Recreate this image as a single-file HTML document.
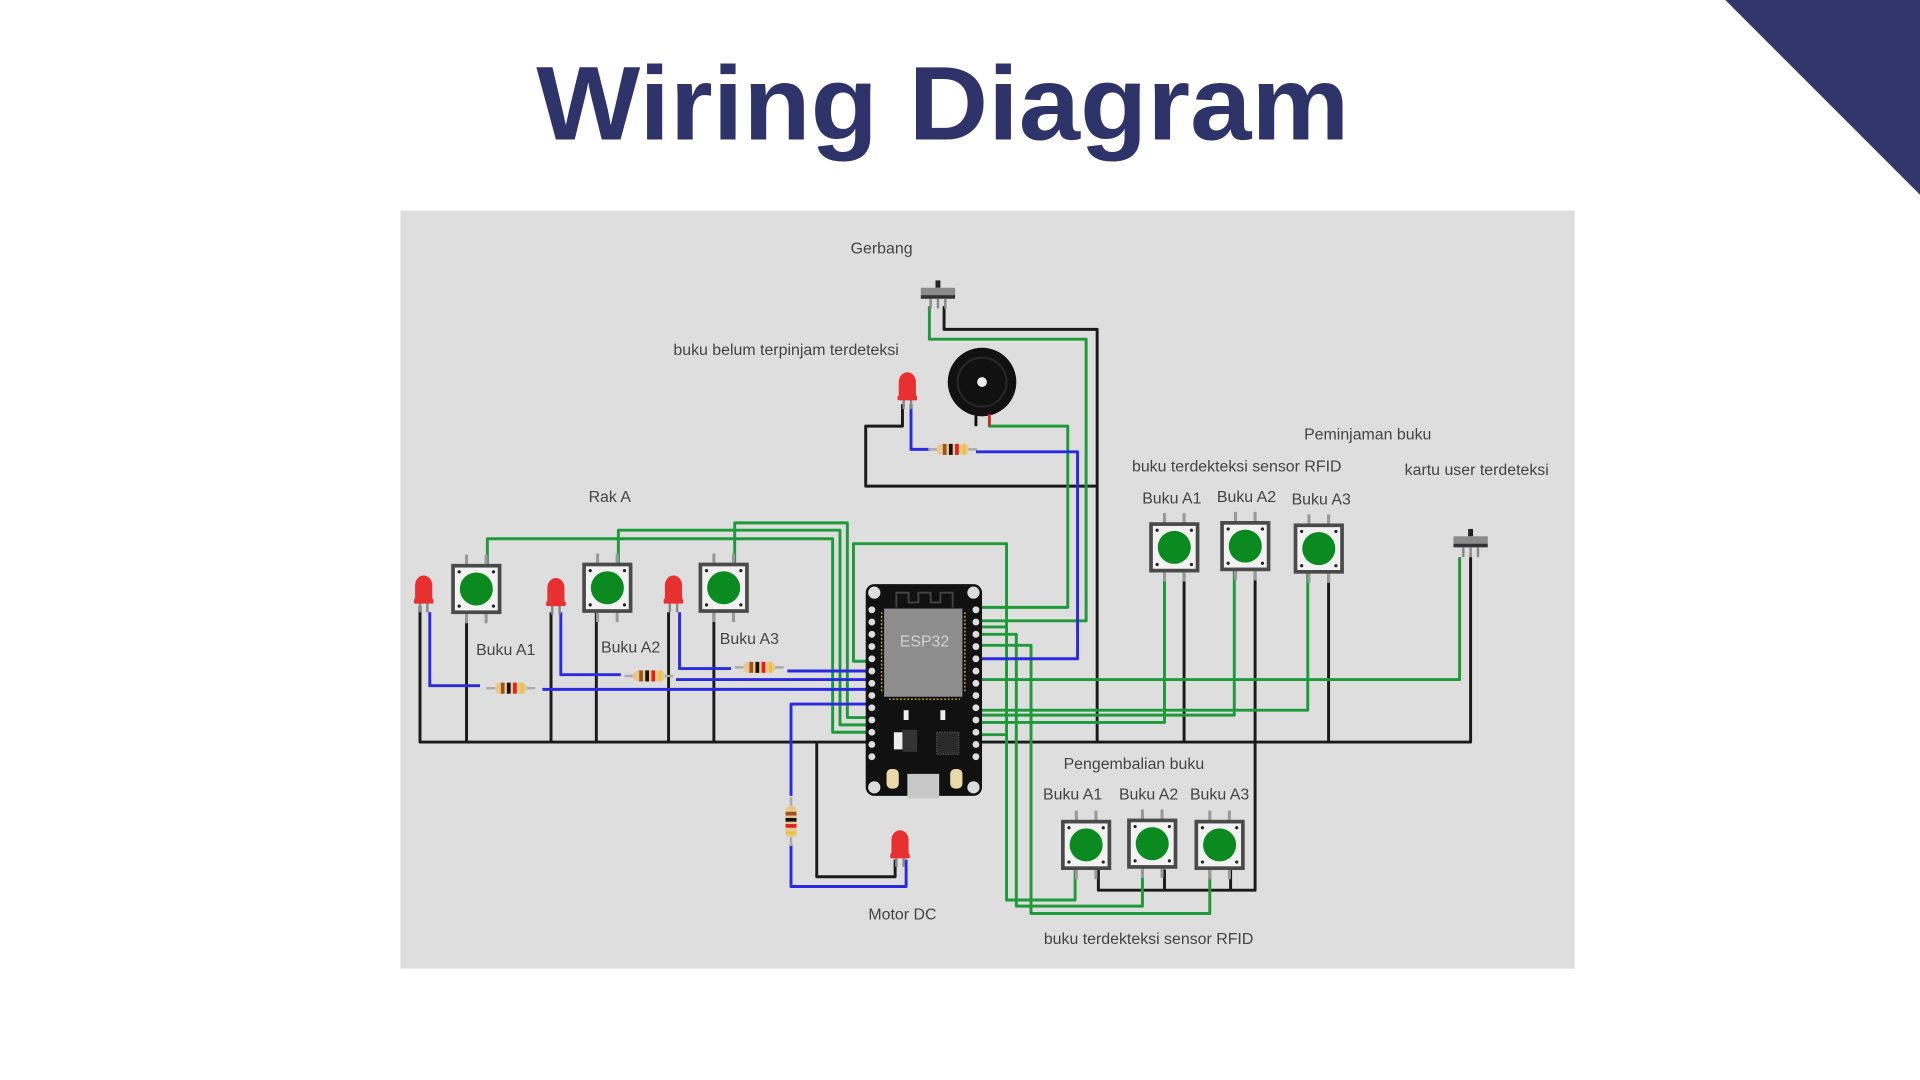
<!DOCTYPE html>
<html><head><meta charset="utf-8"><style>
html,body{margin:0;padding:0;background:#fff;width:1920px;height:1080px;overflow:hidden}
svg{display:block}
text{font-family:"Liberation Sans",sans-serif}
</style></head><body>
<svg width="1920" height="1080" viewBox="0 0 1568 882" xmlns="http://www.w3.org/2000/svg">
<defs>
<g id="btn">
 <line x1="-8" y1="-28" x2="-8" y2="-19" stroke="#999" stroke-width="2.5"/>
 <line x1="8" y1="-28" x2="8" y2="-19" stroke="#999" stroke-width="2.5"/>
 <line x1="-8" y1="19" x2="-8" y2="28" stroke="#999" stroke-width="2.5"/>
 <line x1="8" y1="19" x2="8" y2="28" stroke="#999" stroke-width="2.5"/>
 <rect x="-19" y="-19" width="38" height="38" fill="#f2f2f2" stroke="#4a4a4a" stroke-width="3"/>
 <circle cx="0" cy="0" r="13.5" fill="#0b8a1f"/>
 <circle cx="-14" cy="-14" r="1.3" fill="#222"/><circle cx="14" cy="-14" r="1.3" fill="#222"/>
 <circle cx="-14" cy="14" r="1.3" fill="#222"/><circle cx="14" cy="14" r="1.3" fill="#222"/>
</g>
<g id="led">
 <line x1="-3" y1="8" x2="-3" y2="18" stroke="#888" stroke-width="2"/>
 <line x1="3" y1="8" x2="3" y2="18" stroke="#888" stroke-width="2"/>
 <path d="M-7 10 V-4 A7 8 0 0 1 7 -4 V10 Z" fill="#e83030"/>
 <rect x="-8" y="7" width="16" height="4" rx="1" fill="#e83030"/>
</g>
<g id="res">
 <line x1="-20" y1="0" x2="20" y2="0" stroke="#aaa" stroke-width="2"/>
 <rect x="-13" y="-4.5" width="26" height="9" rx="4" fill="#e9c890"/>
 <rect x="-8" y="-4.5" width="3" height="9" fill="#a0521d"/>
 <rect x="-3" y="-4.5" width="3" height="9" fill="#111"/>
 <rect x="2" y="-4.5" width="3" height="9" fill="#e02020"/>
 <rect x="8" y="-4.5" width="2.5" height="9" fill="#e6c640"/>
</g>
<g id="sw">
 <rect x="-2" y="-11" width="4" height="6" fill="#222"/>
 <rect x="-14" y="-5" width="28" height="6" fill="#8a8a8a"/>
 <rect x="-14" y="1" width="28" height="3" fill="#333"/>
 <line x1="-6" y1="4" x2="-6" y2="12" stroke="#888" stroke-width="2"/>
 <line x1="0" y1="4" x2="0" y2="12" stroke="#888" stroke-width="2"/>
 <line x1="6" y1="4" x2="6" y2="12" stroke="#888" stroke-width="2"/>
</g>
</defs>

<polygon points="1409,0 1568,0 1568,159" fill="#32366b"/>
<text x="770" y="114" text-anchor="middle" font-size="86" font-weight="bold" fill="#2e346a" textLength="664" lengthAdjust="spacingAndGlyphs">Wiring Diagram</text>

<rect x="327" y="172" width="959" height="619" fill="#dedede"/>

<g fill="none" stroke-linejoin="round" stroke-width="2.4">
<!-- black wires -->
<g stroke="#1a1a1a">
 <path d="M343 495 V606 H1201 V455"/>
 <path d="M381 500 V606 M450 500 V606 M487 500 V606 M546 500 V606 M583 500 V606"/>
 <path d="M771 250 V269 H896 V606"/>
 <path d="M737 330 V348 H707 V397 H896"/>
 <path d="M797 340 V348"/>
 <path d="M967 465 V606 M1085 465 V606"/>
 <path d="M1025 465 V727 H897 V710 M951 710 V727 M1005 710 V727"/>
 <path d="M667 606 V716 H731 V702"/>
</g>
<!-- green wires -->
<g stroke="#1f9a3a">
 <path d="M398 462 V440 H680 V598 H711"/>
 <path d="M505 462 V433 H686 V592 H711"/>
 <path d="M600 462 V427 H692 V586 H711"/>
 <path d="M711 540 H697 V444 H822 V600 H801"/>
 <path d="M759 250 V277 H887 V507 H801"/>
 <path d="M808 340 V348 H872 V496 H801"/>
 <path d="M951 465 V590 H801"/>
 <path d="M1008 465 V584 H801"/>
 <path d="M1068 465 V580 H801"/>
 <path d="M1192 455 V555 H801"/>
 <path d="M801 512 H822"/>
 <path d="M878 710 V735 H822 V600"/>
 <path d="M801 518 H830 V740 H933 V710"/>
 <path d="M801 527 H842 V746 H988 V710"/>
</g>
<!-- blue wires -->
<g stroke="#2a2ae0">
 <path d="M351 500 V560 H392"/>
 <path d="M443 563 H711"/>
 <path d="M458 500 V551 H507"/>
 <path d="M552 555 H711"/>
 <path d="M555 500 V546 H597"/>
 <path d="M643 548 H711"/>
 <path d="M711 575 H646 V650"/>
 <path d="M646 690 V724 H740 V702"/>
 <path d="M744 330 V367 H760"/>
 <path d="M797 369 H880 V538 H801"/>
</g>
</g>

<!-- resistors -->
<use href="#res" x="417" y="562"/>
<use href="#res" x="530" y="552"/>
<use href="#res" x="620" y="545"/>
<use href="#res" x="778" y="367"/>
<use href="#res" transform="translate(646,671) rotate(90)"/>

<!-- LEDs -->
<use href="#led" x="346" y="482"/>
<use href="#led" x="454" y="484"/>
<use href="#led" x="550" y="482"/>
<use href="#led" x="741" y="316"/>
<use href="#led" x="735" y="690"/>

<!-- buttons -->
<use href="#btn" x="389" y="481"/>
<use href="#btn" x="496" y="480"/>
<use href="#btn" x="591" y="480"/>
<use href="#btn" x="959" y="447"/>
<use href="#btn" x="1017" y="446"/>
<use href="#btn" x="1077" y="448"/>
<use href="#btn" x="887" y="690"/>
<use href="#btn" x="941" y="689"/>
<use href="#btn" x="996" y="690"/>

<!-- switches -->
<use href="#sw" x="766" y="240"/>
<use href="#sw" x="1201" y="443"/>

<!-- buzzer -->
<circle cx="802" cy="312" r="28" fill="#111"/>
<circle cx="802" cy="312" r="20" fill="none" stroke="#2a2a2a" stroke-width="1.5"/>
<circle cx="802" cy="312" r="4" fill="#eee"/>
<line x1="797" y1="338" x2="797" y2="348" stroke="#111" stroke-width="2"/>
<line x1="808" y1="338" x2="808" y2="348" stroke="#e02020" stroke-width="2"/>

<!-- ESP32 -->
<g>
 <rect x="707" y="477" width="95" height="173" rx="7" fill="#111"/>
 <circle cx="714" cy="484" r="5" fill="#ddd"/><circle cx="795" cy="484" r="5" fill="#ddd"/>
 <circle cx="714" cy="643" r="5" fill="#ddd"/><circle cx="795" cy="643" r="5" fill="#ddd"/>
 <path d="M732 496 V484 H742 V492 H750 V484 H760 V492 H768 V484 H778 V496" fill="none" stroke="#444" stroke-width="1.5"/>
 <rect x="722" y="497" width="64" height="72" fill="#8d8d8d"/>
 <g stroke="#c9a53a" stroke-width="1.2">
  <path d="M726 571 h58" stroke-dasharray="1.5 1.5"/>
  <path d="M720 500 v66 M788 500 v66" stroke-dasharray="1.5 1.5"/>
 </g>
 <text x="755" y="528" text-anchor="middle" font-size="13" fill="#d2d2d2">ESP32</text>
 <rect x="738" y="580" width="4" height="8" fill="#eee"/><rect x="768" y="580" width="4" height="8" fill="#eee"/>
 <rect x="730" y="598" width="7" height="14" fill="#eee"/><rect x="737" y="596" width="12" height="18" fill="#333"/>
 <rect x="765" y="598" width="18" height="18" fill="#2a2a2a" stroke="#555" stroke-dasharray="1 1"/>
 <rect x="724" y="628" width="10" height="16" rx="4" fill="#e8d9a8"/>
 <rect x="776" y="628" width="10" height="16" rx="4" fill="#e8d9a8"/>
 <rect x="741" y="632" width="26" height="20" fill="#c8c8c8"/>
 <g fill="#ddd">
  <circle cx="712" cy="498" r="2.8"/><circle cx="712" cy="508" r="2.8"/><circle cx="712" cy="518" r="2.8"/><circle cx="712" cy="528" r="2.8"/><circle cx="712" cy="538" r="2.8"/><circle cx="712" cy="548" r="2.8"/><circle cx="712" cy="558" r="2.8"/><circle cx="712" cy="568" r="2.8"/><circle cx="712" cy="578" r="2.8"/><circle cx="712" cy="588" r="2.8"/><circle cx="712" cy="598" r="2.8"/><circle cx="712" cy="608" r="2.8"/><circle cx="712" cy="618" r="2.8"/>
  <circle cx="797" cy="498" r="2.8"/><circle cx="797" cy="508" r="2.8"/><circle cx="797" cy="518" r="2.8"/><circle cx="797" cy="528" r="2.8"/><circle cx="797" cy="538" r="2.8"/><circle cx="797" cy="548" r="2.8"/><circle cx="797" cy="558" r="2.8"/><circle cx="797" cy="568" r="2.8"/><circle cx="797" cy="578" r="2.8"/><circle cx="797" cy="588" r="2.8"/><circle cx="797" cy="598" r="2.8"/><circle cx="797" cy="608" r="2.8"/><circle cx="797" cy="618" r="2.8"/>
 </g>
</g>

<!-- labels -->
<g font-size="13" fill="#444">
 <text x="720" y="207" text-anchor="middle">Gerbang</text>
 <text x="642" y="290" text-anchor="middle">buku belum terpinjam terdeteksi</text>
 <text x="498" y="410" text-anchor="middle">Rak A</text>
 <text x="413" y="535" text-anchor="middle">Buku A1</text>
 <text x="515" y="533" text-anchor="middle">Buku A2</text>
 <text x="612" y="526" text-anchor="middle">Buku A3</text>
 <text x="1117" y="359" text-anchor="middle">Peminjaman buku</text>
 <text x="1010" y="385" text-anchor="middle">buku terdekteksi sensor RFID</text>
 <text x="1206" y="388" text-anchor="middle">kartu user terdeteksi</text>
 <text x="957" y="411" text-anchor="middle">Buku A1</text>
 <text x="1018" y="410" text-anchor="middle">Buku A2</text>
 <text x="1079" y="412" text-anchor="middle">Buku A3</text>
 <text x="926" y="628" text-anchor="middle">Pengembalian buku</text>
 <text x="876" y="653" text-anchor="middle">Buku A1</text>
 <text x="938" y="653" text-anchor="middle">Buku A2</text>
 <text x="996" y="653" text-anchor="middle">Buku A3</text>
 <text x="737" y="751" text-anchor="middle">Motor DC</text>
 <text x="938" y="771" text-anchor="middle">buku terdekteksi sensor RFID</text>
</g>
</svg>
</body></html>
